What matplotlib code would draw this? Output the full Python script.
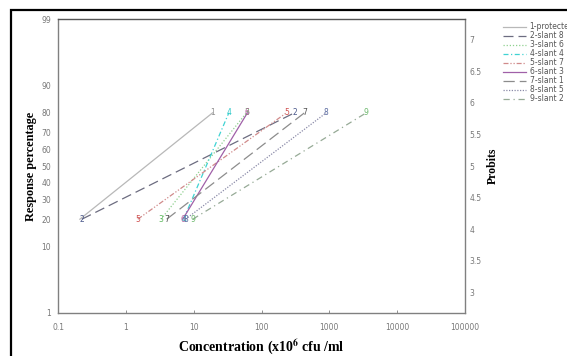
import numpy as np
import matplotlib
matplotlib.use("Agg")
import matplotlib.pyplot as plt
from matplotlib.patches import Rectangle
from statistics import NormalDist

# --- donnees ---
noms = ["1-protected", "2-slant 8", "3-slant 6", "4-slant 4", "5-slant 7",
        "6-slant 3", "7-slant 1", "8-slant 5", "9-slant 2"]
conc_20 = [0.21, 0.225, 3.3, 7.1, 1.5, 6.9, 4.0, 7.6, 9.7]      # concentration a 20 %
conc_80 = [19, 306, 60, 33, 233, 62, 430, 900, 3500]          # concentration a 80 %
reponse = [20, 80]

pct_ticks = [1, 10, 20, 30, 40, 50, 60, 70, 80, 90, 99]
probit_ticks = [3, 3.5, 4, 4.5, 5, 5.5, 6, 6.5, 7]
x_ticks = [0.1, 1, 10, 100, 1000, 10000, 100000]
x_labels = ["0.1", "1", "10", "100", "1000", "10000", "100000"]

couleurs = ["#b8b8b8", "#6c6c80", "#8fd08f", "#3fd3d3", "#d08a8a",
            "#a060a8", "#8c8c8c", "#8a8aa8", "#96aa96"]
couleurs_txt = ["#909090", "#4c5a8c", "#5cb85c", "#2ec8c8", "#d05050",
                "#b05a9a", "#555555", "#5a6aa0", "#6ab86a"]
styles = ["-", (0, (8, 4)), (0, (1, 1.5)), (0, (4, 2, 1, 2)), (0, (4, 1.5, 1, 1.5, 1, 1.5)),
          "-", (0, (9, 4)), (0, (1, 1.2)), (0, (5, 3, 1, 3))]

# echelle probit (probit = z + 5)
_nd = NormalDist()
_inv = np.vectorize(_nd.inv_cdf, otypes=[float])
_cdf = np.vectorize(_nd.cdf, otypes=[float])

def vers_probit(p):
    p = np.clip(np.asarray(p, dtype=float) / 100.0, 1e-9, 1 - 1e-9)
    return _inv(p) + 5.0

def depuis_probit(z):
    return _cdf(np.asarray(z, dtype=float) - 5.0) * 100.0

plt.rcParams['font.family'] = ['DejaVu Sans']
plt.rcParams['mathtext.fontset'] = 'stix'
gris = "#808080"
serif = 'Liberation Serif'

fig = plt.figure(figsize=(5.67, 3.56), dpi=100)
ax = fig.add_axes([0.1023, 0.1208, 0.7178, 0.8258])

for i in range(len(noms)):
    ax.plot([conc_20[i], conc_80[i]], reponse, color=couleurs[i], linestyle=styles[i],
            linewidth=0.9, label=noms[i])
    num = str(i + 1)
    if i > 0:  # le "1" du depart est cache sous le "2"
        ax.text(conc_20[i], reponse[0], num, color=couleurs_txt[i], fontsize=5.5,
                ha='center', va='center')
    ax.text(conc_80[i], reponse[1], num, color=couleurs_txt[i], fontsize=5.5,
            ha='center', va='center')

ax.set_xscale('log')
ax.set_yscale('function', functions=(vers_probit, depuis_probit))
ax.set_xlim(0.1, 100000)
ax.set_ylim(1, 99)
ax.set_xticks(x_ticks)
ax.set_xticklabels(x_labels)
ax.xaxis.set_minor_locator(matplotlib.ticker.NullLocator())
ax.set_yticks(pct_ticks)
ax.set_yticklabels([str(p) for p in pct_ticks])
ax.yaxis.set_minor_locator(matplotlib.ticker.NullLocator())
ax.tick_params(axis='both', labelsize=5.5, labelcolor="#787878", color=gris,
               direction='in', length=2, width=0.6)
ax.tick_params(axis='y', length=0, pad=5)
ax.tick_params(axis='x', pad=7)
for s in ax.spines.values():
    s.set_color(gris)
    s.set_linewidth(1.0)
ax.spines['top'].set_color("#555555")

ax2 = ax.twinx()
ax2.set_ylim(vers_probit(1), vers_probit(99))
ax2.set_yticks(probit_ticks)
ax2.set_yticklabels([f"{v:g}" for v in probit_ticks])
ax2.tick_params(axis='y', labelsize=5.5, labelcolor="#787878", length=0, pad=3)
for s in ax2.spines.values():
    s.set_visible(False)

ax.set_xlabel(r"Concentration (x10$^{\mathbf{6}}$ cfu /ml", fontsize=10, fontweight='bold',
              family=serif, labelpad=4)
ax.set_ylabel("Response percentage", fontsize=8.8, fontweight='bold',
              family=serif, labelpad=3)
fig.text(493 / 567, 1 - 166 / 356, "Probits", rotation=90, ha='center', va='center',
         fontsize=8.5, fontweight='bold', family=serif)

fig.legend(loc='upper left', bbox_to_anchor=(0.88, 0.948), frameon=False,
           fontsize=5.5, handlelength=3.0, handletextpad=0.5, labelspacing=0.0,
           borderpad=0, labelcolor="#555555")

fig.patches.append(Rectangle((0.0194, -0.02), 1.0, 0.992, transform=fig.transFigure,
                             fill=False, edgecolor='black', linewidth=1.6))

fig.savefig("out.png", dpi=100)
